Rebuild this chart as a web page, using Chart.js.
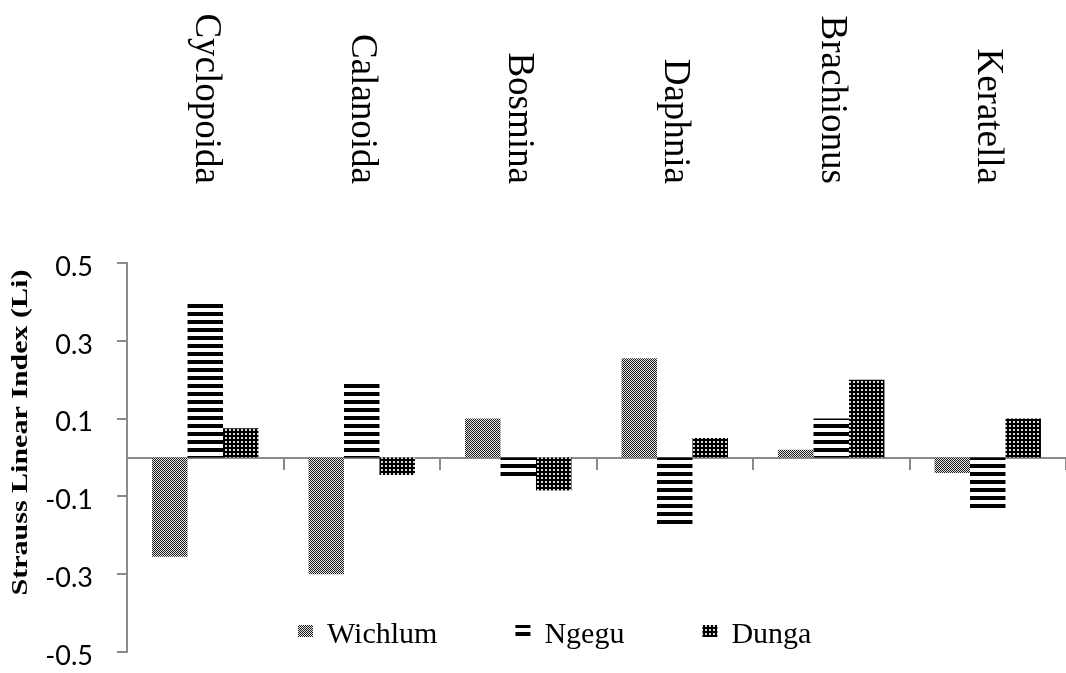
<!DOCTYPE html>
<html>
<head>
<meta charset="utf-8">
<script src="https://cdn.jsdelivr.net/npm/chart.js@4"></script>
<style>
  html, body { margin: 0; padding: 0; background: #fff; overflow: hidden; }
  canvas { display: block; }
</style>
</head>
<body>
<canvas id="chart" width="1066" height="673"></canvas>
<script>
const categories = ["Cyclopoida", "Calanoida", "Bosmina", "Daphnia", "Brachionus", "Keratella"];
const seriesNames = ["Wichlum", "Ngegu", "Dunga"];
const wichlum = [-0.255, -0.30, 0.10, 0.255, 0.02, -0.04];
const ngegu = [0.405, 0.195, -0.05, -0.18, 0.10, -0.13];
const dunga = [0.075, -0.045, -0.085, 0.05, 0.20, 0.10];
const yTitle = "Strauss Linear Index (Li)";

const AXIS_GREY = "#8a8a8a";

// small tile patterns like the excel fills
function makePattern(w, h, paint) {
  const c = document.createElement("canvas");
  c.width = w;
  c.height = h;
  const g = c.getContext("2d");
  paint(g);
  return document.getElementById("chart").getContext("2d").createPattern(c, "repeat");
}

const checkerFill = makePattern(2, 2, (g) => {
  g.fillStyle = "#e6e6e6";
  g.fillRect(0, 0, 2, 2);
  g.fillStyle = "#1a1a1a";
  g.fillRect(0, 0, 1, 1);
  g.fillRect(1, 1, 1, 1);
});

const stripeFill = makePattern(4, 8, (g) => {
  g.fillStyle = "#fff";
  g.fillRect(0, 0, 4, 8);
  g.fillStyle = "#000";
  g.fillRect(0, 0, 4, 4);
});

const dotFill = makePattern(4, 4, (g) => {
  g.fillStyle = "#000";
  g.fillRect(0, 0, 4, 4);
  g.fillStyle = "#d8d8d8";
  g.fillRect(1, 1, 2, 2);
});

const topLabels = {
  id: "topLabels",
  afterDraw(chart) {
    const ctx = chart.ctx;
    const x = chart.scales.x;
    ctx.save();
    ctx.fillStyle = "#000";
    ctx.font = "37px 'Liberation Serif'";
    ctx.textAlign = "right";
    ctx.textBaseline = "middle";
    categories.forEach((name, i) => {
      ctx.save();
      ctx.translate(x.getPixelForValue(i), 184);
      ctx.rotate(Math.PI / 2);
      ctx.fillText(name, 0, 0);
      ctx.restore();
    });
    ctx.restore();
  },
};

const axisTitle = {
  id: "axisTitle",
  afterDraw(chart) {
    const ctx = chart.ctx;
    const area = chart.chartArea;
    ctx.save();
    ctx.fillStyle = "#000";
    ctx.font = "bold 30px 'Liberation Serif'";
    ctx.textAlign = "center";
    ctx.textBaseline = "alphabetic";
    ctx.translate(27, (area.top + area.bottom) / 2 - 25);
    ctx.rotate(-Math.PI / 2);
    ctx.scale(1, 0.8);
    ctx.fillText(yTitle, 0, 0);
    ctx.restore();
  },
};

const innerLegend = {
  id: "innerLegend",
  afterDraw(chart) {
    const ctx = chart.ctx;
    ctx.save();
    ctx.font = "30px 'Liberation Serif'";
    ctx.textBaseline = "alphabetic";
    ctx.textAlign = "left";
    let x = 298;
    const y = 643;
    chart.data.datasets.forEach((ds) => {
      ctx.fillStyle = ds.backgroundColor;
      ctx.fillRect(x, y - 18, 15, 12);
      ctx.fillStyle = "#000";
      ctx.fillText(ds.label, x + 29, y);
      x += 29 + ctx.measureText(ds.label).width + 78;
    });
    ctx.restore();
  },
};

new Chart(document.getElementById("chart"), {
  type: "bar",
  data: {
    labels: categories,
    datasets: [
      { label: seriesNames[0], data: wichlum, backgroundColor: checkerFill },
      { label: seriesNames[1], data: ngegu, backgroundColor: stripeFill },
      { label: seriesNames[2], data: dunga, backgroundColor: dotFill },
    ],
  },
  options: {
    responsive: false,
    animation: false,
    devicePixelRatio: 1,
    categoryPercentage: 0.68,
    barPercentage: 1,
    layout: {
      padding: { top: 263, bottom: 21, left: 0, right: 0 },
    },
    plugins: {
      legend: { display: false },
      tooltip: { enabled: false },
    },
    scales: {
      x: {
        position: { y: 0 },
        afterFit: (scale) => {
          scale.height = 0;
        },
        grid: {
          offset: true,
          drawOnChartArea: false,
          drawTicks: true,
          tickLength: 11,
          color: AXIS_GREY,
          lineWidth: 2,
        },
        border: { color: AXIS_GREY, width: 2 },
        ticks: { display: false },
      },
      y: {
        min: -0.5,
        max: 0.5,
        afterFit: (scale) => {
          scale.width = 127;
          scale.paddingTop = 0;
          scale.paddingBottom = 0;
        },
        grid: {
          drawOnChartArea: false,
          drawTicks: true,
          tickLength: 10,
          color: AXIS_GREY,
          lineWidth: 2,
        },
        border: { color: AXIS_GREY, width: 2 },
        ticks: {
          stepSize: 0.2,
          padding: 24,
          labelOffset: 4,
          color: "#000",
          font: { family: "Lato", size: 27 },
          callback: (v) => Number(v).toFixed(1),
        },
      },
    },
  },
  plugins: [topLabels, axisTitle, innerLegend],
});
</script>
</body>
</html>
